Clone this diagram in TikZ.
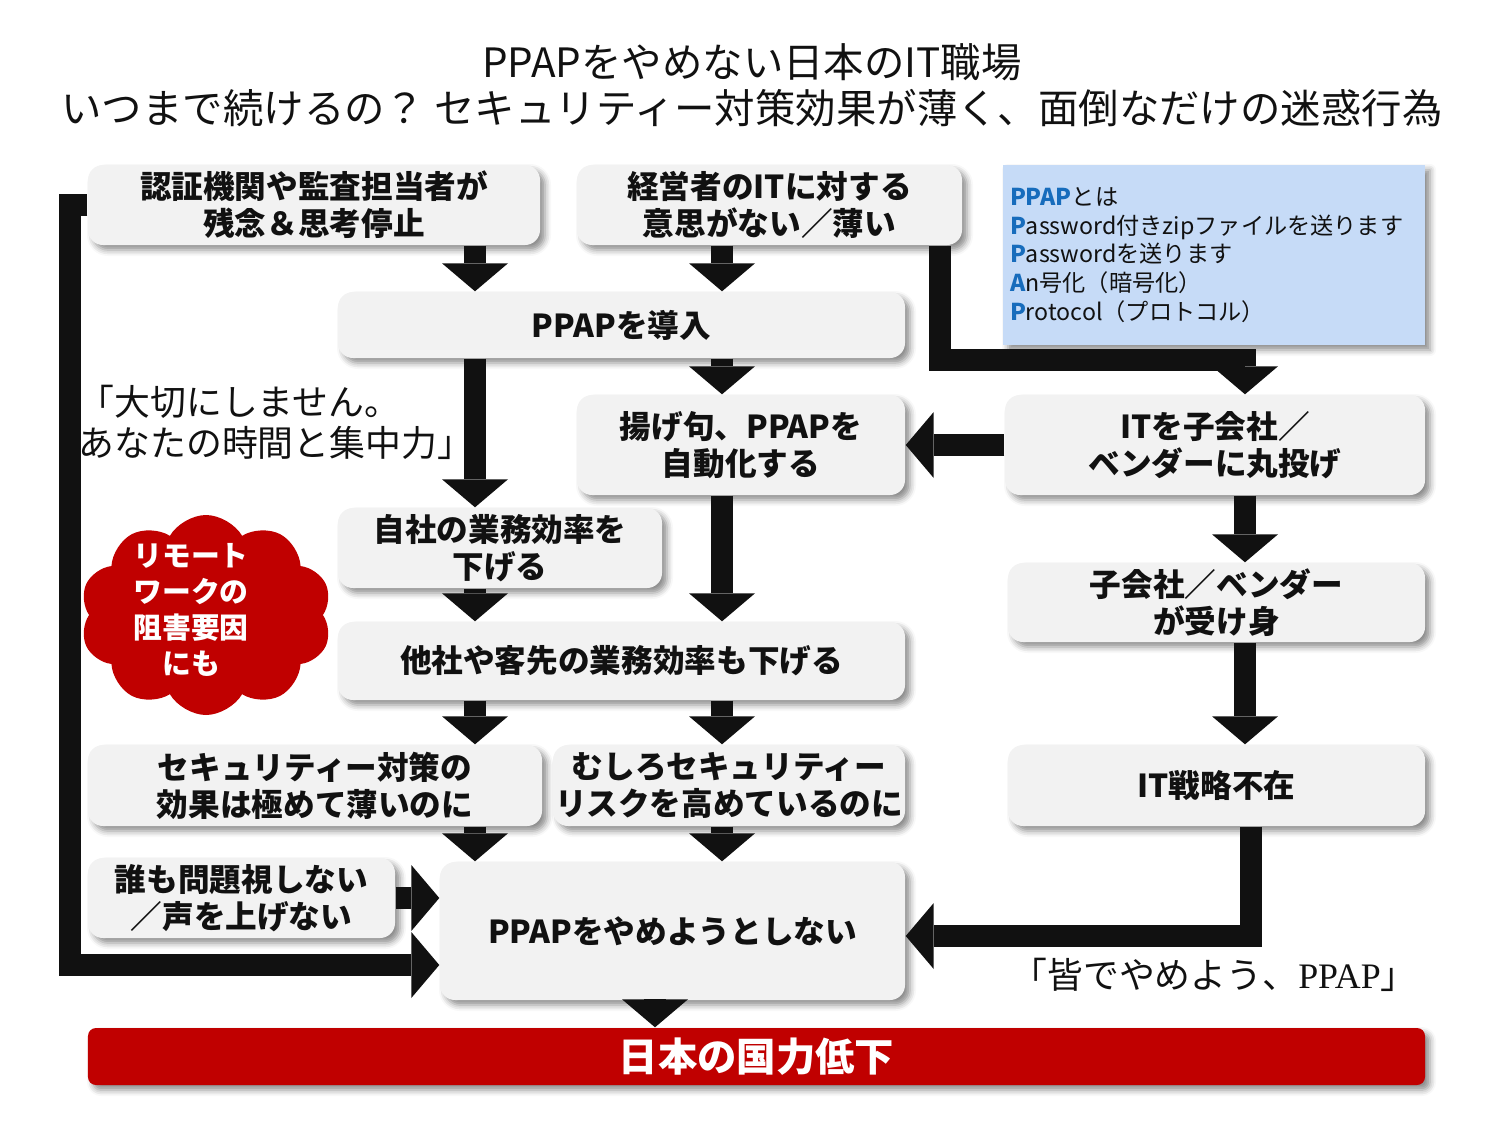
\documentclass[tikz,border=0pt]{standalone}
\usepackage{fontspec}
\setmainfont{Noto Sans CJK JP}
\newfontfamily\latinserif{Liberation Serif}
\usetikzlibrary{arrows.meta,shadows.blur,shapes.symbols}

\definecolor{boxgray}{RGB}{242,242,242}
\definecolor{infoblue}{RGB}{198,219,247}
\definecolor{ppapblue}{RGB}{23,108,188}
\definecolor{ppapred}{RGB}{192,0,0}
\definecolor{ink}{RGB}{17,17,17}
\newcommand{\firstch}[1]{\textbf{\textcolor{ppapblue}{#1}}}

\begin{document}
\begin{tikzpicture}[x=1mm,y=-1mm,
	box/.style={fill=boxgray, rounded corners=1.5mm, inner sep=0pt, align=center, text=ink,
		font=\fontsize{9}{10.5}\selectfont\bfseries,
		blur shadow={shadow xshift=0.5mm, shadow yshift=-0.5mm, shadow blur radius=0.6mm, shadow opacity=45}},
	bigarrow/.style={draw=ink, line width=2.2mm, -{Triangle[width=6.6mm,length=2.8mm,line width=0pt]}},
	quote/.style={align=left, inner sep=0pt, text=ink, font=\fontsize{10.2}{11.6}\selectfont}]
					\useasboundingbox (0,0) rectangle (150,113.5);
					% title
					\node[align=center, text=ink, font=\fontsize{11.5}{13}\selectfont] (title) at (75.2,8.5)
						{PPAPをやめない日本のIT職場\\いつまで続けるの？ セキュリティー対策効果が薄く、面倒なだけの迷惑行為};
					% boxes
					\node[box, minimum width=45.2mm, minimum height=8mm] (cert) at (31.4,20.5) {認証機関や監査担当者が\\残念＆思考停止};
					\node[box, minimum width=38.5mm, minimum height=8mm] (mgmt) at (76.95,20.5) {経営者のITに対する\\意思がない／薄い};
					\node[box, minimum width=56.7mm, minimum height=6.6mm] (intro) at (62.15,32.5) {PPAPを導入};
					\node[box, minimum width=32.8mm, minimum height=10mm] (auto) at (74.1,44.5) {揚げ句、PPAPを\\自動化する};
					\node[box, minimum width=42mm, minimum height=10mm] (outsource) at (121.5,44.5) {ITを子会社／\\ベンダーに丸投げ};
					\node[box, minimum width=32.4mm, minimum height=8mm] (own) at (50,54.8) {自社の業務効率を\\下げる};
					\node[box, minimum width=41.7mm, minimum height=7.9mm] (vendor) at (121.65,60.25) {子会社／ベンダー\\が受け身};
					\node[box, minimum width=56.7mm, minimum height=7.8mm] (other) at (62.15,66.1) {他社や客先の業務効率も下げる};
					\node[box, minimum width=45.4mm, minimum height=8.1mm] (sec) at (31.5,78.55) {セキュリティー対策の\\効果は極めて薄いのに};
					\node[box, minimum width=35.2mm, minimum height=8.1mm] (risk) at (72.9,78.55) {むしろセキュリティー\\リスクを高めているのに};
					\node[box, minimum width=41.7mm, minimum height=8.1mm] (strat) at (121.65,78.55) {IT戦略不在};
					\node[box, minimum width=30.7mm, minimum height=8mm] (silent) at (24.15,89.8) {誰も問題視しない\\／声を上げない};
					\node[box, minimum width=46.5mm, minimum height=13.8mm] (keep) at (67.25,93.1) {PPAPをやめようとしない};
					\node[box, fill=ppapred, text=white, rounded corners=0.8mm, minimum width=133.7mm, minimum height=5.7mm,
						font=\fontsize{11.2}{13}\selectfont\bfseries] (bar) at (75.65,105.65) {日本の国力低下};
					% info box
					\node[fill=infoblue, text=ink, align=left, inner xsep=0.7mm, text width=40.8mm, minimum height=18mm,
						font=\fontsize{6.6}{8.2}\selectfont,
						blur shadow={shadow xshift=0.5mm, shadow yshift=-0.5mm, shadow blur radius=0.6mm, shadow opacity=45}] (info) at (121.4,25.5)
						{\firstch{PPAP}とは\\\firstch{P}assword付きzipファイルを送ります\\\firstch{P}asswordを送ります\\\firstch{A}n号化（暗号化）\\\firstch{P}rotocol（プロトコル）};
					% cloud
					\node[cloud, cloud puffs=10, cloud puff arc=120, cloud ignores aspect, fill=ppapred,
						minimum width=25.2mm, minimum height=20mm] (cloud) at (20.6,61.5) {};
					\node[align=center, text=white, font=\fontsize{8.2}{10.2}\selectfont\bfseries] (cloudtext) at (19.1,61) {リモート\\ワークの\\阻害要因\\にも};
					% quotes
					\node[quote, anchor=west] (quoteA) at (7.8,42.2) {「大切にしません。\\あなたの時間と集中力」};
					\node[quote] (quoteB) at (121.4,97.5) {「皆でやめよう、{\latinserif PPAP}」};
					% arrows
					\coordinate (colA) at (47.5,0);
					\coordinate (colB) at (72.2,0);
					\coordinate (colC) at (124.5,0);
					\coordinate (colD) at (65.5,0);
					\coordinate (colE) at (125.1,0);
					\coordinate (bendC) at (124.5,36);
					\coordinate (bendL) at (7,96.5);
					\draw[bigarrow] (cert.south -| colA) -- (intro.north -| colA);
					\draw[bigarrow] (mgmt.south -| colB) -- (intro.north -| colB);
					\draw[bigarrow] ([xshift=-2.3mm]mgmt.south east) |- (bendC) -- (outsource.north -| colC);
					\draw[bigarrow] (intro.south -| colB) -- (auto.north -| colB);
					\draw[bigarrow] (intro.south -| colA) -- (own.north -| colA);
					\draw[bigarrow] (outsource.west) -- (auto.east);
					\draw[bigarrow] (outsource.south -| colC) -- (vendor.north -| colC);
					\draw[bigarrow] (auto.south -| colB) -- (other.north -| colB);
					\draw[bigarrow] (own.south -| colA) -- (other.north -| colA);
					\draw[bigarrow] (vendor.south -| colC) -- (strat.north -| colC);
					\draw[bigarrow] (other.south -| colA) -- (sec.north -| colA);
					\draw[bigarrow] (other.south -| colB) -- (risk.north -| colB);
					\draw[bigarrow] (sec.south -| colA) -- (keep.north -| colA);
					\draw[bigarrow] (risk.south -| colB) -- (keep.north -| colB);
					\draw[bigarrow] (silent.east) -- (silent.east -| keep.west);
					\draw[bigarrow] (cert.west) -| (bendL) -- (bendL -| keep.west);
					\draw[bigarrow] (strat.south -| colE) |- ([yshift=-0.5mm]keep.east);
					\draw[bigarrow] (keep.south -| colD) -- (bar.north -| colD);
\end{tikzpicture}
\end{document}
